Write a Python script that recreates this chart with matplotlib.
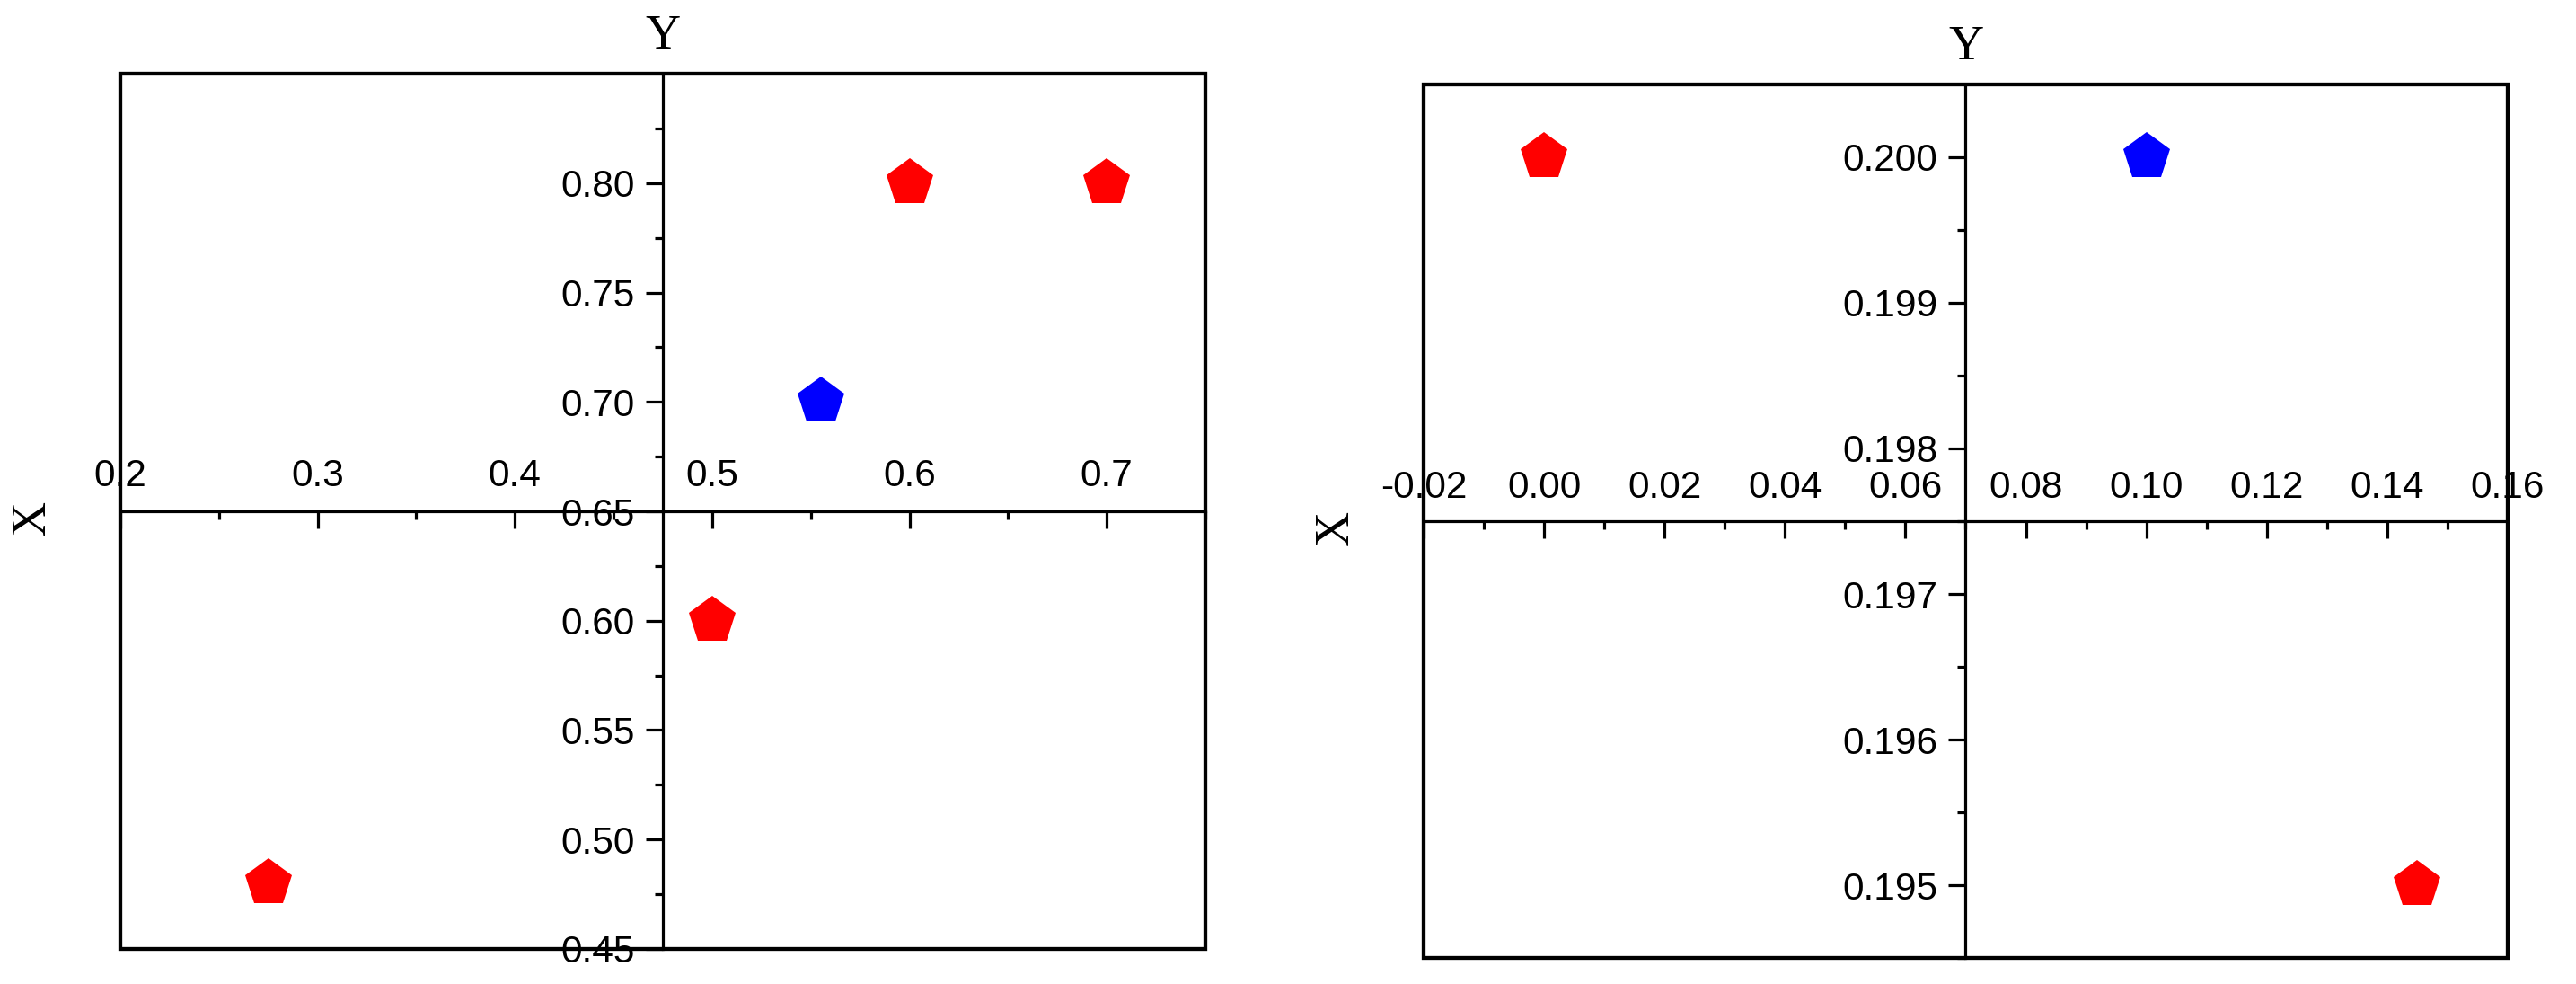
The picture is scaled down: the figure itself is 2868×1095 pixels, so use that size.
import numpy as np
import matplotlib
matplotlib.use("Agg")
import matplotlib.pyplot as plt
from matplotlib.patches import Rectangle

# left panel
left_red_x = [0.6, 0.7, 0.5, 0.275]
left_red_y = [0.8, 0.8, 0.6, 0.48]
left_blue_x = [0.555]
left_blue_y = [0.70]
left_xticks = [0.2, 0.3, 0.4, 0.5, 0.6, 0.7]
left_yticks = [0.45, 0.50, 0.55, 0.60, 0.65, 0.70, 0.75, 0.80]

# right panel
right_red_x = [0.0, 0.145]
right_red_y = [0.200, 0.195]
right_blue_x = [0.10]
right_blue_y = [0.200]
right_xticks = [-0.02, 0.00, 0.02, 0.04, 0.06, 0.08, 0.10, 0.12, 0.14, 0.16]
right_yticks = [0.195, 0.196, 0.197, 0.198, 0.199, 0.200]

plt.rcParams['font.family'] = ['Liberation Sans', 'DejaVu Sans']

fig = plt.figure(figsize=(28.68, 10.95), dpi=100)


def panel(rect, xlim, ylim, xticks, yticks, xminor, yminor, xfmt, yfmt, xpad):
    ax = fig.add_axes(rect)
    ax.set_xlim(*xlim)
    ax.set_ylim(*ylim)
    xmid = (xlim[0] + xlim[1]) / 2
    ymid = (ylim[0] + ylim[1]) / 2
    for s in ['bottom', 'right']:
        ax.spines[s].set_visible(False)
    # crossing axes through the middle of the frame
    ax.spines['left'].set_position(('data', xmid))
    ax.spines['top'].set_position(('data', ymid))
    ax.spines['left'].set_linewidth(2.3)
    ax.spines['top'].set_linewidth(2.3)
    ax.xaxis.set_ticks_position('top')
    ax.yaxis.set_ticks_position('left')
    ax.set_xticks(xticks)
    ax.set_yticks(yticks)
    ax.set_xticks(xminor, minor=True)
    ax.set_yticks(yminor, minor=True)
    ax.set_xticklabels([xfmt % v for v in xticks])
    ax.set_yticklabels([yfmt % v for v in yticks])
    ax.tick_params(axis='x', which='both', direction='in', width=2.3, pad=xpad, labelsize=30.5)
    ax.tick_params(axis='y', which='both', direction='out', width=2.3, pad=9, labelsize=30.5)
    ax.tick_params(which='major', length=13.5)
    ax.tick_params(which='minor', length=6.5)
    ax.add_patch(Rectangle((0, 0), 1, 1, transform=ax.transAxes, fill=False,
                           edgecolor='black', linewidth=3.1, clip_on=False, zorder=3))
    ax.text(0.5, 1.029, 'Y', transform=ax.transAxes, ha='center', va='baseline',
            fontsize=39, family='Liberation Serif')
    ax.text(-0.081, 0.492, 'X', transform=ax.transAxes, ha='center', va='center',
            rotation=90, fontsize=39, family='Liberation Serif')
    return ax


ax1 = panel([0.04672, 0.03562, 0.42120, 0.88949], (0.2, 0.75), (0.45, 0.85),
            left_xticks, left_yticks,
            [0.25, 0.35, 0.45, 0.55, 0.65, 0.75],
            [0.475, 0.525, 0.575, 0.625, 0.675, 0.725, 0.775, 0.825],
            '%.1f', '%.2f', 14)
ax1.plot(left_red_x, left_red_y, 'p', color='#ff0000', markersize=40, markeredgewidth=0, clip_on=False)
ax1.plot(left_blue_x, left_blue_y, 'p', color='#0000ff', markersize=40, markeredgewidth=0, clip_on=False)

ax2 = panel([0.55265, 0.02648, 0.42085, 0.88768], (-0.02, 0.16), (0.1945, 0.2005),
            right_xticks, right_yticks,
            [-0.01, 0.01, 0.03, 0.05, 0.07, 0.09, 0.11, 0.13, 0.15],
            [0.1945, 0.1955, 0.1965, 0.1975, 0.1985, 0.1995],
            '%.2f', '%.3f', 12)
ax2.plot(right_red_x, right_red_y, 'p', color='#ff0000', markersize=40, markeredgewidth=0, clip_on=False)
ax2.plot(right_blue_x, right_blue_y, 'p', color='#0000ff', markersize=40, markeredgewidth=0, clip_on=False)

fig.savefig('out.png', dpi=100)
